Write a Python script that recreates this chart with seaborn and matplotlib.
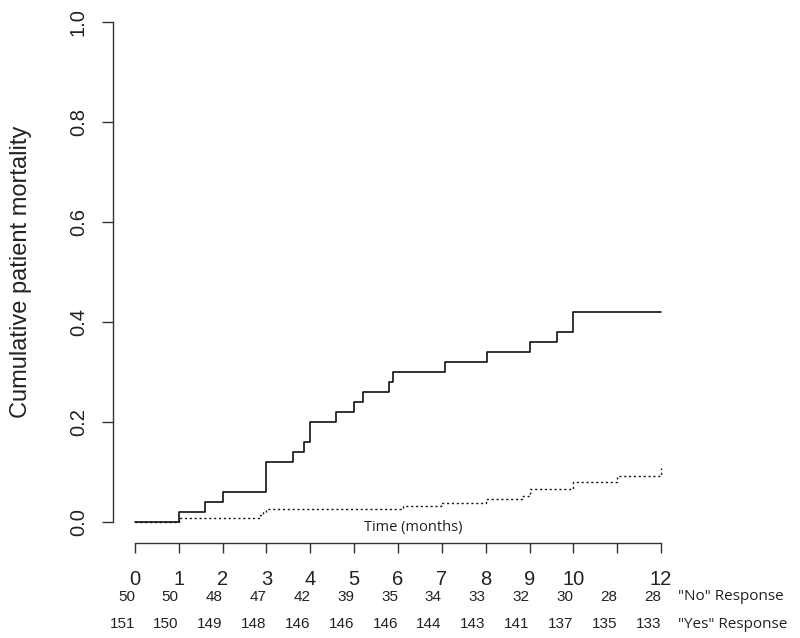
import matplotlib
matplotlib.use("Agg")
import matplotlib.pyplot as plt
from matplotlib import transforms
import seaborn as sns
import pandas as pd

# cumulative mortality, "No" response group (solid)
no_months = [0, 1.0, 1.6, 2.0, 3.0, 3.6, 3.86, 4.0, 4.58, 5.0, 5.2, 5.79, 5.89,
             7.08, 8.03, 9.0, 9.62, 10.0, 12.0]
no_mortality = [0, 0.02, 0.04, 0.06, 0.12, 0.14, 0.16, 0.20, 0.22, 0.24, 0.26,
                0.28, 0.30, 0.32, 0.34, 0.36, 0.38, 0.42, 0.42]

# cumulative mortality, "Yes" response group (dotted)
yes_months = [0, 1.0, 2.86, 2.93, 3.0, 6.11, 6.98, 8.01, 8.83, 9.0, 10.0, 11.0, 12.0]
yes_mortality = [0, 0.0066, 0.0132, 0.0199, 0.0250, 0.031, 0.038, 0.045, 0.052,
                 0.066, 0.079, 0.092, 0.107]

# x axis and numbers at risk
tick_months = list(range(13))
tick_labels = ["0", "1", "2", "3", "4", "5", "6", "7", "8", "9", "10", "", "12"]
at_risk_no = [50, 50, 48, 47, 42, 39, 35, 34, 33, 32, 30, 28, 28]
at_risk_yes = [151, 150, 149, 148, 146, 146, 146, 144, 143, 141, 137, 135, 133]

sns.set_theme(style="ticks")
plt.rcParams["font.family"] = ["Liberation Sans", "DejaVu Sans"]

fig = plt.figure(figsize=(8, 6.38), dpi=100)
ax = fig.add_axes([0.14125, 0.1489, 0.7125, 0.850])

df_no = pd.DataFrame({"month": no_months, "mortality": no_mortality})
df_yes = pd.DataFrame({"month": yes_months, "mortality": yes_mortality})

sns.lineplot(data=df_no, x="month", y="mortality", ax=ax, color="#111111",
             linewidth=1.2, drawstyle="steps-post", estimator=None)
sns.lineplot(data=df_yes, x="month", y="mortality", ax=ax, color="#111111",
             linewidth=1.0, linestyle=(0, (1.5, 2.0)), drawstyle="steps-post",
             estimator=None)

ax.set_xlim(-0.5, 12.5)
ax.set_ylim(-0.0426, 1.0426)

for side in ["top", "right"]:
    ax.spines[side].set_visible(False)
ax.spines["left"].set_bounds(0, 1)
ax.spines["bottom"].set_bounds(0, 12)
for side in ["left", "bottom"]:
    ax.spines[side].set_color("#333333")
    ax.spines[side].set_linewidth(1.0)

ax.set_xticks(tick_months)
ax.set_xticklabels(tick_labels, fontsize=14.5, color="#222222")
ax.tick_params(axis="x", length=7.5, width=1.0, color="#333333", pad=12)

ax.set_yticks([0, 0.2, 0.4, 0.6, 0.8, 1.0])
ax.set_yticklabels(["0.0", "0.2", "0.4", "0.6", "0.8", "1.0"], fontsize=14.5,
                   color="#222222", rotation=90, va="center")
ax.tick_params(axis="y", length=8, width=1.0, color="#333333", pad=10)

ax.set_xlabel("")
ax.set_ylabel("Cumulative patient mortality", fontsize=17, color="#222222")
ax.yaxis.set_label_coords(-0.142, 0.5)

ax.text(6.35, -0.012, "Time (months)", family=["Open Sans", "DejaVu Sans"],
        fontsize=10.5, color="#222222", ha="center", va="center")

# numbers at risk under the axis
trans = transforms.blended_transform_factory(ax.transData, fig.transFigure)
for m, n_no, n_yes in zip(tick_months, at_risk_no, at_risk_yes):
    ax.text(m, 1 - 597 / 638, str(n_no), transform=trans, ha="right",
            va="center", fontsize=11, color="#222222")
    ax.text(m, 1 - 624 / 638, str(n_yes), transform=trans, ha="right",
            va="center", fontsize=11, color="#222222")

fig.text(678 / 800, 1 - 597 / 638, '"No" Response', family=["Open Sans", "DejaVu Sans"],
         fontsize=11, color="#222222", ha="left", va="center")
fig.text(678 / 800, 1 - 624 / 638, '"Yes" Response', family=["Open Sans", "DejaVu Sans"],
         fontsize=11, color="#222222", ha="left", va="center")

fig.savefig("out.png", dpi=100, facecolor="white")
